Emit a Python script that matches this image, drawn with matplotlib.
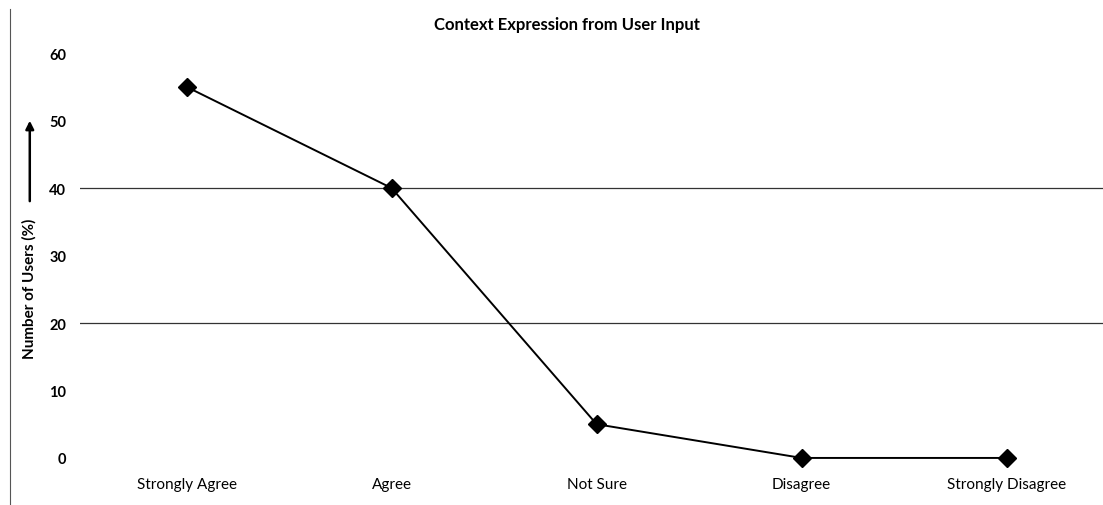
import matplotlib.pyplot as plt
from matplotlib.lines import Line2D

# data
categories = ['Strongly Agree', 'Agree', 'Not Sure', 'Disagree', 'Strongly Disagree']
users_pct = [55, 40, 5, 0, 0]
y_ticks = [0, 10, 20, 30, 40, 50, 60]
grid_levels = [20, 40]

plt.rcParams['font.family'] = ['Lato', 'DejaVu Sans']

fig = plt.figure(figsize=(11.03, 5.06), dpi=100)
ax = fig.add_axes([0.0725, 0.093, 0.9275, 0.80])

x = list(range(len(categories)))
for lvl in grid_levels:
    ax.axhline(lvl, color='#333333', lw=0.9, zorder=1)
ax.plot(x, users_pct, color='black', lw=1.4, marker='D', markersize=9,
        markerfacecolor='black', zorder=3, clip_on=False)

ax.set_xlim(-0.52, 4.47)
ax.set_ylim(0, 60)
ax.set_xticks(x)
ax.set_xticklabels(categories, fontsize=11)
ax.set_yticks(y_ticks)
ax.set_yticklabels([str(v) for v in y_ticks], fontsize=10.5, fontweight='bold')
ax.tick_params(length=0, pad=10)
ax.tick_params(axis='x', pad=14)
for s in ax.spines.values():
    s.set_visible(False)

fig.text(0.514, 0.95, 'Context Expression from User Input', ha='center', va='center',
         fontsize=12, fontweight='bold')

# y label with arrow pointing up
fig.text(0.027, 0.43, 'Number of Users (%)', rotation=90, ha='center', va='center',
         fontsize=11, fontweight='bold')
fig.add_artist(plt.Annotation('', xy=(0.027, 0.765), xytext=(0.027, 0.595),
                              xycoords='figure fraction', textcoords='figure fraction',
                              arrowprops=dict(arrowstyle='-|>', color='black', lw=1.8,
                                              mutation_scale=12)))

# chart border on the left
fig.add_artist(Line2D([0.009, 0.009], [0.0, 0.98], transform=fig.transFigure,
                      color='#555555', lw=0.8))

fig.savefig('out.png', dpi=100)
